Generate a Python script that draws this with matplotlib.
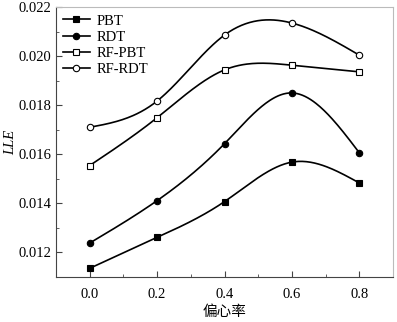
import numpy as np
import matplotlib
matplotlib.use("Agg")
from matplotlib import pyplot as plt
from matplotlib.ticker import MultipleLocator

x = [0.0, 0.2, 0.4, 0.6, 0.8]
pbt = [0.01135, 0.01261, 0.01407, 0.01568, 0.01483]
rdt = [0.01238, 0.01411, 0.01643, 0.01850, 0.01606]
rf_pbt = [0.01554, 0.01749, 0.01944, 0.01963, 0.01936]
rf_rdt = [0.01710, 0.01817, 0.02086, 0.02135, 0.02004]


def spline(xs, ys, n=200):
    # natural cubic spline through the points
    xs = np.asarray(xs, float)
    ys = np.asarray(ys, float)
    k = len(xs)
    h = np.diff(xs)
    A = np.zeros((k, k))
    b = np.zeros(k)
    A[0, 0] = A[-1, -1] = 1
    for i in range(1, k - 1):
        A[i, i - 1] = h[i - 1]
        A[i, i] = 2 * (h[i - 1] + h[i])
        A[i, i + 1] = h[i]
        b[i] = 3 * ((ys[i + 1] - ys[i]) / h[i] - (ys[i] - ys[i - 1]) / h[i - 1])
    c = np.linalg.solve(A, b)
    xx = np.linspace(xs[0], xs[-1], n)
    yy = np.empty_like(xx)
    for j, t in enumerate(xx):
        i = min(np.searchsorted(xs, t, side="right") - 1, k - 2)
        d = t - xs[i]
        bi = (ys[i + 1] - ys[i]) / h[i] - h[i] * (2 * c[i] + c[i + 1]) / 3
        di = (c[i + 1] - c[i]) / (3 * h[i])
        yy[j] = ys[i] + bi * d + c[i] * d ** 2 + di * d ** 3
    return xx, yy


plt.rcParams['font.family'] = ['Liberation Serif', 'Noto Sans CJK SC']
fig = plt.figure(figsize=(3.97, 3.22), dpi=100)
ax = fig.add_axes([0.141, 0.140, 0.849, 0.838])

series = [
    (pbt, "PBT", "s", "black"),
    (rdt, "RDT", "o", "black"),
    (rf_pbt, "RF-PBT", "s", "white"),
    (rf_rdt, "RF-RDT", "o", "white"),
]
for ys, name, m, fc in series:
    sx, sy = spline(x, ys)
    ax.plot(sx, sy, color="black", lw=1.2)
    ax.plot(x, ys, m, color="black", mfc=fc, mec="black", ms=4.6, mew=0.8)
    ax.plot([], [], "-" + m, color="black", mfc=fc, mec="black", ms=4.6,
            mew=0.8, lw=1.2, label=name)

ax.set_xlim(-0.1, 0.9)
ax.set_ylim(0.011, 0.022)
ax.set_xticks(x)
ax.set_yticks([0.012, 0.014, 0.016, 0.018, 0.020, 0.022])
ax.xaxis.set_minor_locator(MultipleLocator(0.1))
ax.yaxis.set_minor_locator(MultipleLocator(0.001))
ax.tick_params(which="both", direction="in", labelsize=10.5, color="#444444")
ax.tick_params(which="major", length=4)
ax.tick_params(which="minor", length=2)
ax.tick_params(axis="x", pad=8)
for s in ["left", "bottom"]:
    ax.spines[s].set_color("#444444")
for s in ["top", "right"]:
    ax.spines[s].set_color("#bbbbbb")

ax.set_xlabel("偏心率", fontsize=10.5, family="Noto Sans CJK SC", labelpad=3)
ax.set_ylabel("LLE", fontsize=10.5, style="italic", labelpad=1)
ax.legend(loc="upper left", frameon=False, fontsize=10.5, handlelength=1.8,
          labelspacing=0.2, borderaxespad=0.1, handletextpad=0.5)

fig.savefig("out.png", dpi=100)
